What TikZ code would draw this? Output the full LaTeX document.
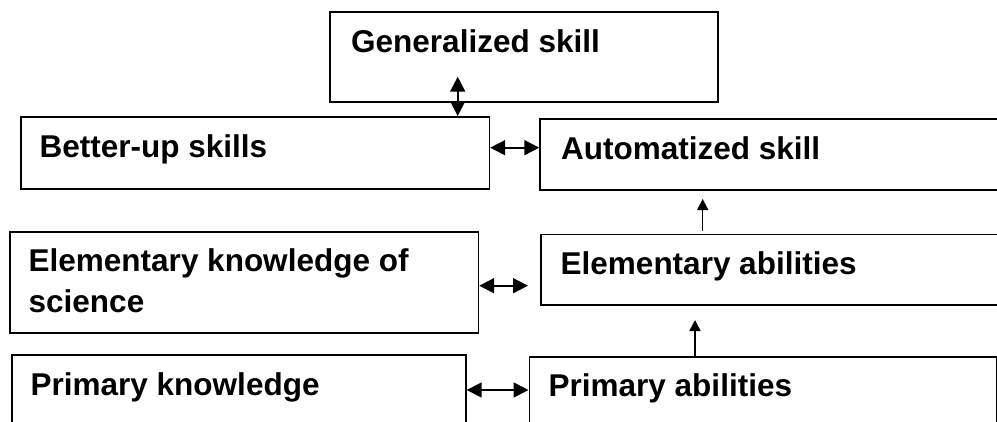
\documentclass[tikz,border=0pt]{standalone}
\usepackage{fontspec}
\setmainfont{Liberation Sans}
\usetikzlibrary{arrows.meta}
\begin{document}
\begin{tikzpicture}[x=1pt,y=-1pt,
  box/.style={draw, line width=1.7pt, inner sep=0pt, anchor=north west, rectangle},
  lbl/.style={anchor=base west, inner sep=0pt, align=left,
    font=\bfseries\fontsize{31.5}{40.6}\selectfont},
  dbl/.style={line width=1.7pt, {Triangle[length=15pt,width=15pt]}-{Triangle[length=15pt,width=15pt]}},
  up/.style={line width=1.5pt, -{Triangle[length=11pt,width=11pt]}}]
\useasboundingbox (0,0) rectangle (997,421);
\clip (0,0) rectangle (997,421);
% boxes
\node[box, minimum width=388pt, minimum height=90pt] (gen) at (329,11) {};
\node[box, minimum width=468.5pt, minimum height=72pt] (bet) at (20,116) {};
\node[box, minimum width=480pt, minimum height=71pt] (aut) at (539.3,118) {};
\node[box, minimum width=468.5pt, minimum height=101pt] (ekn) at (9,231) {};
\node[box, minimum width=480pt, minimum height=70.5pt] (eab) at (540,233.5) {};
\node[box, minimum width=454pt, minimum height=100pt] (pkn) at (11,354) {};
\node[box, minimum width=467.5pt, minimum height=100pt] (pab) at (528.5,356) {};
% labels
\node[lbl] (tgen) at (351,52.3) {Generalized skill};
\node[lbl] (tbet) at (39.5,157.3) {Better-up skills};
\node[lbl] (taut) at (561,159.3) {Automatized skill};
\node[lbl] (tekn) at (28.5,312.3) {Elementary knowledge of\\science};
\node[lbl] (teab) at (560.5,274.3) {Elementary abilities};
\node[lbl] (tpkn) at (30.5,395) {Primary knowledge};
\node[lbl] (tpab) at (548.5,396) {Primary abilities};
% connectors
\coordinate (g1) at (457.7,76.7);
\draw[dbl] (g1) -- (g1 |- bet.north);
\coordinate (y1) at (0,147.7);
\draw[dbl] (bet.east |- y1) -- (aut.west |- y1);
\coordinate (e2) at (528,285.7);
\draw[dbl] (ekn.east |- e2) -- (e2);
\coordinate (y3) at (0,390);
\draw[dbl] (pkn.east |- y3) -- (pab.west |- y3);
\coordinate (a1) at (702.7,230.7);
\coordinate (a2) at (702.7,199);
\draw[up] (a1) -- (a2);
\coordinate (b2) at (695,320);
\draw[up] (b2 |- pab.north) -- (b2);
\end{tikzpicture}
\end{document}
